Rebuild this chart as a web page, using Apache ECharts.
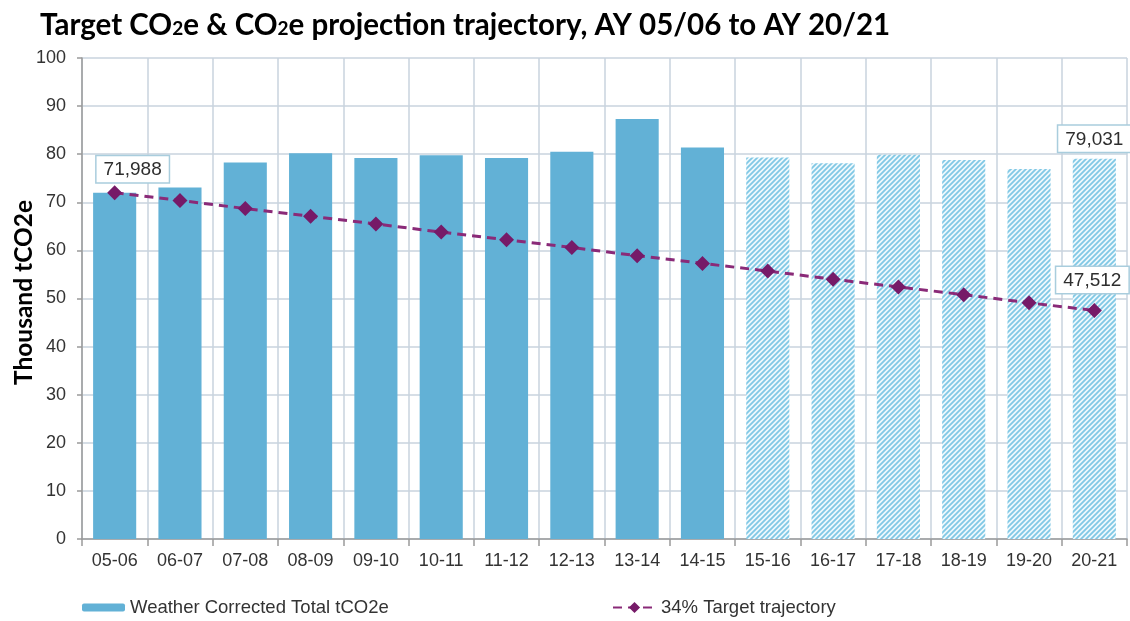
<!DOCTYPE html>
<html>
<head>
<meta charset="utf-8">
<script src="https://cdn.jsdelivr.net/npm/echarts@6/dist/echarts.min.js"></script>
<style>
  html, body { margin: 0; padding: 0; background: #ffffff; }
  #chart { width: 1130px; height: 621px; }
</style>
</head>
<body>
<div id="chart"></div>
<script>
// Academic years (AY) on the x axis
const years = ['05-06', '06-07', '07-08', '08-09', '09-10', '10-11', '11-12', '12-13',
  '13-14', '14-15', '15-16', '16-17', '17-18', '18-19', '19-20', '20-21'];

// Weather corrected total emissions, thousand tCO2e
const weatherCorrected = [71.988, 73.1, 78.3, 80.2, 79.2, 79.8, 79.2, 80.5,
  87.3, 81.4, 79.3, 78.1, 79.9, 78.8, 76.9, 79.031];

// true where the year is a projection rather than a measured figure
const projected = [false, false, false, false, false, false, false, false,
  false, false, true, true, true, true, true, true];

// 34% reduction target trajectory, thousand tCO2e
const targetTrajectory = [71.988, 70.4, 68.7, 67.1, 65.5, 63.8, 62.2, 60.6,
  58.9, 57.3, 55.7, 54.0, 52.4, 50.8, 49.1, 47.512];

const yTicks = [0, 10, 20, 30, 40, 50, 60, 70, 80, 90, 100];

const BAR_NAME = 'Weather Corrected Total tCO2e';
const LINE_NAME = '34% Target trajectory';

// diagonal hatch fill for projected years
function hatchPattern() {
  const c = document.createElement('canvas');
  c.width = 5; c.height = 5;
  const g = c.getContext('2d');
  g.fillStyle = '#eef8fc';
  g.fillRect(0, 0, 5, 5);
  g.strokeStyle = '#80c8e5';
  g.lineWidth = 1.8;
  g.beginPath();
  g.moveTo(-1, 6); g.lineTo(6, -1);
  g.moveTo(-3, 3); g.lineTo(3, -3);
  g.moveTo(2, 8); g.lineTo(8, 2);
  g.stroke();
  return c;
}
const hatch = { image: hatchPattern(), repeat: 'repeat' };

const fmtThousands = v => Math.round(v * 1000).toLocaleString('en-US');

const boxLabel = {
  show: true,
  formatter: p => fmtThousands(p.value),
  fontFamily: 'Liberation Sans, Arial, sans-serif',
  fontSize: 19,
  color: '#2e2e2e',
  backgroundColor: '#ffffff',
  borderColor: '#a9cddd',
  borderWidth: 1.5,
  padding: [4, 7, 3, 7]
};

const barData = weatherCorrected.map((v, i) => {
  const item = { value: v };
  if (projected[i]) item.itemStyle = { color: hatch };
  if (i === weatherCorrected.length - 1) {
    item.label = Object.assign({}, boxLabel, { position: 'top', distance: 7 });
  }
  return item;
});

const lineData = targetTrajectory.map((v, i) => {
  const item = { value: v };
  if (i === 0) {
    item.label = Object.assign({}, boxLabel, { position: 'top', distance: 3, offset: [18, 0] });
  }
  if (i === targetTrajectory.length - 1) {
    item.label = Object.assign({}, boxLabel, { position: 'top', distance: 10, offset: [-2, 0] });
  }
  return item;
});

const axisFont = { fontFamily: 'Liberation Sans, Arial, sans-serif', fontSize: 18, color: '#333333' };
const legendFont = { fontFamily: 'Liberation Sans, Arial, sans-serif', fontSize: 18.5, color: '#333333' };

const chart = echarts.init(document.getElementById('chart'), null, { renderer: 'canvas' });
chart.setOption({
  backgroundColor: '#ffffff',
  animation: false,
  title: {
    left: 35,
    top: 5,
    text: 'Target CO{s|2}e & CO{s|2}e projection trajectory, AY 05/06 to AY 20/21',
    textStyle: {
      fontFamily: 'Lato, sans-serif',
      fontWeight: 'bold',
      fontSize: 29.5,
      color: '#000000',
      rich: {
        s: { fontFamily: 'Lato, sans-serif', fontWeight: 'bold', fontSize: 19, color: '#000000', padding: [8, 0, 0, 0] }
      }
    }
  },
  legend: [
    {
      left: 77, bottom: -1,
      data: [{ name: BAR_NAME }],
      itemWidth: 43, itemHeight: 8,
      textStyle: legendFont
    },
    {
      left: 607, bottom: -1,
      data: [{ name: LINE_NAME }],
      itemWidth: 43, itemHeight: 14,
      textStyle: legendFont
    }
  ],
  grid: { left: 82, right: 3, top: 58, bottom: 82, outerBoundsMode: 'none', containLabel: false },
  xAxis: {
    type: 'category',
    data: years,
    axisLine: { lineStyle: { color: '#9a9a9a', width: 1.5 } },
    axisTick: { show: true, length: 7, lineStyle: { color: '#9a9a9a', width: 1.5 } },
    axisLabel: Object.assign({}, axisFont, { margin: 13 }),
    splitLine: { show: true, lineStyle: { color: '#c8d3de', width: 1.5 } }
  },
  yAxis: {
    type: 'value',
    min: yTicks[0],
    max: yTicks[yTicks.length - 1],
    interval: yTicks[1] - yTicks[0],
    name: 'Thousand tCO2e',
    nameLocation: 'middle',
    nameGap: 45,
    nameMoveOverlap: false,
    nameTextStyle: { fontFamily: 'Lato, sans-serif', fontWeight: 'bold', fontSize: 24.5, color: '#000000', padding: [0, 0, 0, 12] },
    axisLine: { show: true, lineStyle: { color: '#9a9a9a', width: 1.5 } },
    axisTick: { show: true, length: 5, lineStyle: { color: '#9a9a9a', width: 1.5 } },
    axisLabel: Object.assign({}, axisFont, { margin: 16 }),
    splitLine: { show: true, lineStyle: { color: '#c8d3de', width: 1.5 } }
  },
  series: [
    {
      name: BAR_NAME,
      type: 'bar',
      data: barData,
      barWidth: '66%',
      itemStyle: { color: '#62b1d6' },
      z: 2
    },
    {
      name: LINE_NAME,
      type: 'line',
      data: lineData,
      symbol: 'diamond',
      symbolSize: 15,
      itemStyle: { color: '#761a68' },
      lineStyle: { color: '#8a2a78', width: 3, type: [9, 6] },
      z: 5
    }
  ]
});
</script>
</body>
</html>
